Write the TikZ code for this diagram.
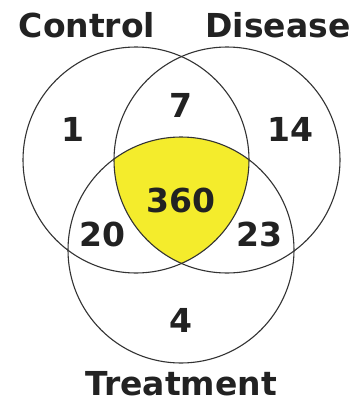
\documentclass[tikz,border=0pt]{standalone}
\usepackage{fontspec}
\setmainfont{DejaVu Sans}
\definecolor{txt}{HTML}{222222}
\definecolor{venny}{HTML}{F4EC2C}
\definecolor{ring}{HTML}{333333}
\tikzset{
  setlabel/.style={font=\fontsize{33}{33}\selectfont\bfseries, text=txt, inner sep=0pt, anchor=base},
  count/.style={font=\fontsize{33}{33}\selectfont\bfseries, text=txt, inner sep=0pt, anchor=base},
  ringline/.style={draw=ring, line width=1.1pt}
}
\begin{document}
\begin{tikzpicture}[x=1pt,y=-1pt]
\useasboundingbox (0,0) rectangle (357,402);
\fill[white] (0,0) rectangle (357,402);
\coordinate (cC) at (136,160);
\coordinate (cD) at (227,160);
\coordinate (cT) at (181,250);
\begin{scope}
  \clip (cC) circle[radius=113];
  \clip (cD) circle[radius=113];
  \fill[venny] (cT) circle[radius=113];
\end{scope}
\draw[ringline] (cC) circle[radius=113];
\draw[ringline] (cD) circle[radius=113];
\draw[ringline] (cT) circle[radius=113];
\node[setlabel] (lc) at (87,37) {Control};
\node[setlabel] (ld) at (278,37) {Disease};
\node[setlabel] (lt) at (181,395) {Treatment};
\node[count] (n1) at (73,141) {1};
\node[count] (n7) at (181,117) {7};
\node[count] (n14) at (290,141) {14};
\node[count] (n360) at (181,212) {360};
\node[count] (n20) at (102,246) {20};
\node[count] (n23) at (259,246) {23};
\node[count] (n4) at (181,332) {4};
\end{tikzpicture}
\end{document}
